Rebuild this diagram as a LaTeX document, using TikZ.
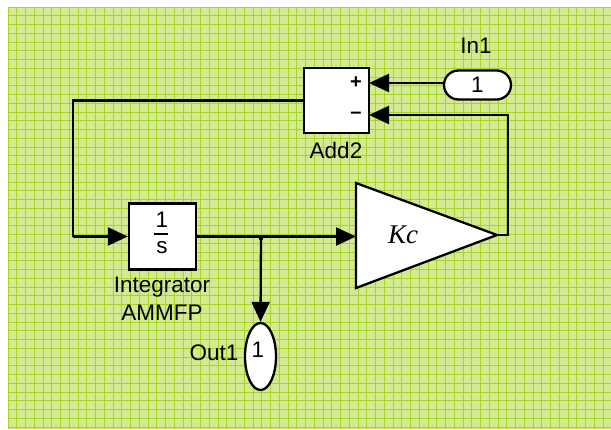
\documentclass[tikz,border=0pt]{standalone}
\usepackage{fontspec}
\setmainfont{Liberation Sans}
\newfontfamily\kcfont{Liberation Serif}
\usetikzlibrary{arrows.meta,shapes.geometric,shapes.misc,calc}
\definecolor{gridbg}{RGB}{212,234,145}
\definecolor{gridln}{RGB}{168,212,40}
\tikzset{
  wire/.style={line width=2.3pt, draw=black},
  arr/.style={wire, -{Triangle[length=20pt,width=18pt]}},
  blockbox/.style={draw, line width=2.3pt, fill=white, rectangle, inner sep=0pt},
  lbl/.style={font=\fontsize{22.5}{25}\selectfont, inner sep=0pt},
  sgn/.style={font=\bfseries\fontsize{20}{22}\selectfont, inner sep=0pt},
}
\begin{document}
\begin{tikzpicture}[x=1pt,y=-1pt]
\useasboundingbox (0,0) rectangle (611,429);
% background grid
\fill[gridbg] (8,7) rectangle (611,429);
\foreach \i in {0,...,69} {
  \draw[gridln, line width=0.9pt] ({8+\i*8.75},7) -- ({8+\i*8.75},429);
}
\foreach \j in {0,...,48} {
  \draw[gridln, line width=0.9pt] (8,{7+\j*8.75}) -- (611,{7+\j*8.75});
}
% Add2 block
\node[blockbox, minimum width=65pt, minimum height=65pt] (add) at (336.5,100.5) {};
\coordinate (aplus) at (369,83);
\coordinate (aminus) at (369,115);
\node[sgn] (plus) at (356,83) {+};
\node[sgn] (minus) at (356,115) {\textendash};
\node[lbl] (addlbl) at (336,150) {Add2};
% In1 port
\node[draw, line width=2.3pt, fill=white, rounded rectangle, minimum width=67pt, minimum height=29pt, inner sep=0pt, font=\fontsize{22.5}{25}\selectfont] (in1) at (477.5,85) {1};
\node[lbl] (in1lbl) at (476,46) {In1};
% Integrator
\node[blockbox, minimum width=67pt, minimum height=66pt] (int) at (162.5,236.5) {};
\node[lbl] (one) at (162,220) {1};
\node[lbl] (ess) at (162,248) {s};
\coordinate (barl) at (154,234);
\coordinate (barr) at (168,234);
\draw[line width=1.9pt] (barl) -- (barr);
\node[lbl] (intlbl1) at (162,287) {Integrator};
\node[lbl] (intlbl2) at (162,313) {AMMFP};
% Gain triangle
\coordinate (kin) at (356,236.5);
\coordinate (kout) at (497,235);
\draw[line width=2.3pt, fill=white, line join=miter] (356,183) -- (356,288) -- (kout) -- cycle;
\node[font=\kcfont\itshape\fontsize{27}{29}\selectfont, inner sep=0pt] (kc) at (403,235) {Kc};
% Out1 port
\node[draw, line width=2.3pt, fill=white, ellipse, minimum width=31pt, minimum height=67pt, inner sep=0pt] (out1) at (260.5,356.5) {};
\node[lbl] (out1num) at (258,350) {1};
\node[lbl] (out1lbl) at (214,353) {Out1};
% wires
\draw[arr] (in1.west |- aplus) -- (aplus);
\coordinate (fb) at (508,235);
\draw[arr] (kout) -- (fb) |- (aminus);
\coordinate (c1) at (73,236.5);
\draw[wire] (add.west) -| (c1);
\draw[arr] (c1) -- (int.west);
\draw[arr] (int.east) -- (kin);
\coordinate (br) at (261,236.5);
\fill (259,236) rectangle (263,240);
\draw[arr] (br) -- (out1.north);
\end{tikzpicture}
\end{document}
